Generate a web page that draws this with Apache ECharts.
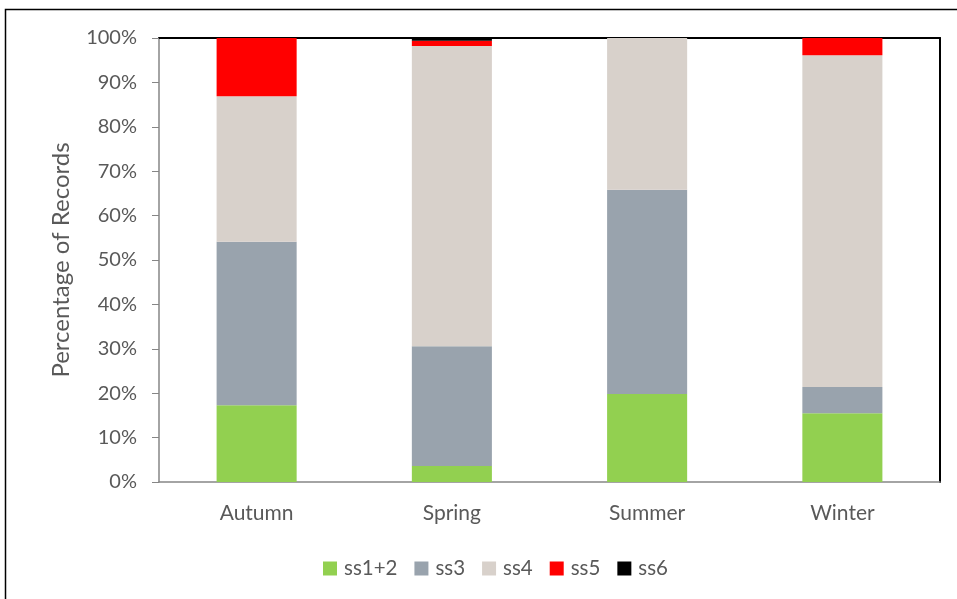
<!DOCTYPE html>
<html><head><meta charset="utf-8">
<script src="https://cdn.jsdelivr.net/npm/echarts@6/dist/echarts.min.js"></script>
<style>html,body{margin:0;padding:0;background:#fff}#c{width:957px;height:599px}</style>
</head><body><div id="c"></div>
<script>
const categories = ['Autumn', 'Spring', 'Summer', 'Winter'];
const ss12 = [17.3, 3.6, 19.8, 15.5];
const ss3 = [36.8, 27.0, 46.0, 5.9];
const ss4 = [32.8, 67.6, 34.2, 74.7];
const ss5 = [13.1, 1.2, 0, 3.9];
const ss6 = [0, 0.6, 0, 0];
const seriesNames = ['ss1+2', 'ss3', 'ss4', 'ss5', 'ss6'];
const seriesData = [ss12, ss3, ss4, ss5, ss6];
const colors = ['#92D050', '#99A3AD', '#D8D1CB', '#FF0000', '#000000'];
const yTicks = [0, 10, 20, 30, 40, 50, 60, 70, 80, 90, 100];

const font = 'Lato, "Open Sans", sans-serif';
const chart = echarts.init(document.getElementById('c'), null, {renderer: 'canvas'});
chart.setOption({
  backgroundColor: '#fff',
  animation: false,
  textStyle: {fontFamily: font},
  graphic: [{
    type: 'rect', shape: {x: 5.5, y: 9.5, width: 960, height: 600},
    style: {fill: 'none', stroke: '#000', lineWidth: 1.5}, silent: true
  }],
  grid: {left: 159, right: 17, top: 38, bottom: 117, containLabel: false},
  legend: {
    top: 553, left: 318, itemWidth: 14, itemHeight: 14, itemGap: 17,
    icon: 'rect',
    textStyle: {fontSize: 20.5, color: '#595959', fontFamily: font, padding: [0, 0, 0, 2]},
    data: seriesNames
  },
  xAxis: [{
    type: 'category', data: categories,
    axisLine: {show: true, lineStyle: {color: '#868686', width: 1.5}},
    axisTick: {show: false},
    axisLabel: {fontSize: 21, color: '#595959', margin: 21, fontFamily: font}
  }, {
    type: 'category', data: categories, position: 'top',
    axisLine: {show: true, onZero: false, lineStyle: {color: '#000', width: 2}},
    axisTick: {show: false}, axisLabel: {show: false}
  }],
  yAxis: [{
    type: 'value', min: 0, max: 100, interval: 10,
    name: 'Percentage of Records', nameLocation: 'middle', nameGap: 86,
    nameTextStyle: {fontSize: 24, color: '#595959', fontFamily: font},
    axisLine: {show: true, lineStyle: {color: '#868686', width: 1.5}},
    axisTick: {show: true, inside: false, length: 7, lineStyle: {color: '#868686'}},
    splitLine: {show: false},
    axisLabel: {fontSize: 20, color: '#595959', margin: 22, fontFamily: font,
      formatter: v => yTicks.includes(v) ? v + '%' : ''}
  }, {
    type: 'value', min: 0, max: 100, interval: 10, position: 'right',
    axisLine: {show: true, onZero: false, lineStyle: {color: '#000', width: 2}},
    axisTick: {show: false}, axisLabel: {show: false}, splitLine: {show: false}
  }],
  series: seriesNames.map((n, i) => ({
    name: n, type: 'bar', stack: 'total', data: seriesData[i],
    barWidth: '41%', itemStyle: {color: colors[i]}
  }))
});
</script></body></html>
